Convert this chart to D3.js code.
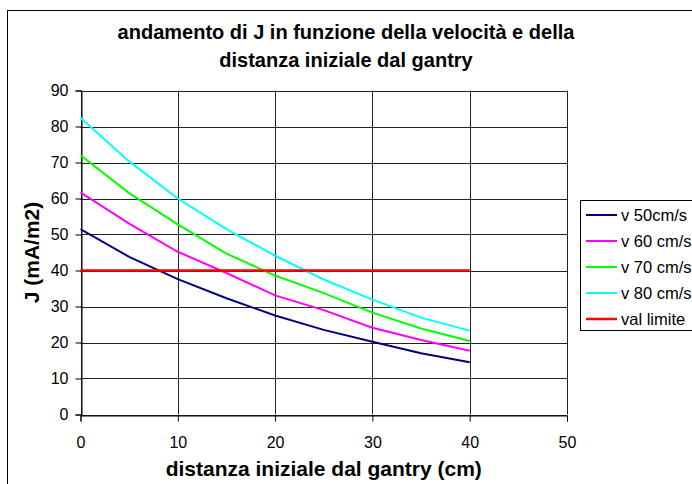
<!DOCTYPE html>
<html>
<head>
<meta charset="utf-8">
<script src="https://cdn.jsdelivr.net/npm/d3@7"></script>
<style>
  html, body { margin: 0; padding: 0; background: #fff; }
  svg { display: block; font-family: "Liberation Sans", Arial, sans-serif; }
</style>
</head>
<body>
<svg id="chart" width="692" height="484"></svg>
<script>
// Distance from the gantry (cm) at which J was evaluated
const distances = [0, 5, 10, 15, 20, 25, 30, 35, 40];

// J (mA/m2) for each speed
const v50 = [51.5, 43.8, 37.6, 32.3, 27.5, 23.5, 20.2, 17.0, 14.5];
const v60 = [61.7, 53.0, 45.2, 39.3, 33.1, 29.0, 24.1, 20.7, 17.7];
const v70 = [72.0, 61.5, 52.8, 44.7, 38.6, 33.7, 28.3, 23.9, 20.4];
const v80 = [82.4, 70.3, 60.0, 51.5, 44.1, 37.5, 31.9, 26.9, 23.3];
const valLimite = [40, 40, 40, 40, 40, 40, 40, 40, 40];

const seriesNames = ["v 50cm/s", "v 60 cm/s", "v 70 cm/s", "v 80 cm/s", "val limite"];
const seriesColors = ["#000080", "#ff00ff", "#00ff00", "#00ffff", "#ff0000"];
const seriesValues = [v50, v60, v70, v80, valLimite];

const xTicks = [0, 10, 20, 30, 40, 50];
const yTicks = [0, 10, 20, 30, 40, 50, 60, 70, 80, 90];

const titleLines = ["andamento di J in funzione della velocità e della", "distanza iniziale dal gantry"];
const xTitle = "distanza iniziale dal gantry (cm)";
const yTitle = "J (mA/m2)";

const svg = d3.select("#chart");

// outer chart frame (runs past the right and bottom edges)
svg.append("rect")
  .attr("x", 7.5).attr("y", 10.5)
  .attr("width", 720).attr("height", 500)
  .attr("fill", "#fff").attr("stroke", "#000").attr("stroke-width", 1);

const plot = { left: 80.5, right: 567, top: 90.5, bottom: 414.5 };

const x = d3.scaleLinear().domain([0, 50]).range([plot.left, plot.right]);
const y = d3.scaleLinear().domain([0, 90]).range([plot.bottom, plot.top]);

// title
svg.append("g").selectAll("text")
  .data(titleLines)
  .join("text")
  .attr("x", 346)
  .attr("y", (d, i) => 39 + i * 28)
  .attr("text-anchor", "middle")
  .attr("font-size", 20)
  .attr("font-weight", "bold")
  .text(d => d);

// grid
const grid = svg.append("g");
grid.selectAll("line.h")
  .data(yTicks)
  .join("line")
  .attr("class", "h")
  .attr("x1", plot.left).attr("x2", plot.right)
  .attr("y1", d => Math.round(y(d)) + 0.5).attr("y2", d => Math.round(y(d)) + 0.5)
  .attr("stroke", "#222").attr("stroke-width", 1);
grid.selectAll("line.v")
  .data(xTicks)
  .join("line")
  .attr("class", "v")
  .attr("y1", plot.top).attr("y2", plot.bottom)
  .attr("x1", d => Math.round(x(d)) + 0.5).attr("x2", d => Math.round(x(d)) + 0.5)
  .attr("stroke", "#222").attr("stroke-width", 1);

// axes
const yAxis = d3.axisLeft(y).tickValues(yTicks).tickSize(6).tickPadding(7).tickFormat(d3.format("d"));
const xAxis = d3.axisBottom(x).tickValues(xTicks).tickSize(6).tickPadding(15).tickFormat(d3.format("d"));

const gy = svg.append("g")
  .attr("transform", `translate(${Math.round(x(0)) + 0.5},0)`)
  .call(yAxis);
const gx = svg.append("g")
  .attr("transform", `translate(0,${Math.round(y(0)) + 0.5})`)
  .call(xAxis);

[gx, gy].forEach(g => {
  g.select(".domain").attr("stroke", "#000");
  g.selectAll(".tick line").attr("stroke", "#000");
  g.selectAll(".tick text")
    .attr("font-family", "Liberation Sans, Arial, sans-serif")
    .attr("font-size", 16)
    .attr("fill", "#000");
});

// axis titles
svg.append("text")
  .attr("x", (plot.left + plot.right) / 2)
  .attr("y", 476)
  .attr("text-anchor", "middle")
  .attr("font-size", 21)
  .attr("font-weight", "bold")
  .text(xTitle);

svg.append("text")
  .attr("transform", `translate(39,${(plot.top + plot.bottom) / 2}) rotate(-90)`)
  .attr("text-anchor", "middle")
  .attr("font-size", 21)
  .attr("font-weight", "bold")
  .text(yTitle);

// data lines
const line = d3.line()
  .x((d, i) => x(distances[i]))
  .y(d => y(d));

svg.append("g").selectAll("path")
  .data(seriesValues)
  .join("path")
  .attr("d", d => line(d))
  .attr("fill", "none")
  .attr("stroke", (d, i) => seriesColors[i])
  .attr("stroke-width", (d, i) => i === 4 ? 2.5 : 2);

// legend
const legend = svg.append("g");
legend.append("rect")
  .attr("x", 580.5).attr("y", 200.5)
  .attr("width", 140).attr("height", 130)
  .attr("fill", "#fff").attr("stroke", "#000");

const items = legend.selectAll("g.item")
  .data(seriesNames)
  .join("g")
  .attr("class", "item")
  .attr("transform", (d, i) => `translate(0,${215 + i * 26})`);
items.append("line")
  .attr("x1", 586).attr("x2", 617)
  .attr("stroke", (d, i) => seriesColors[i])
  .attr("stroke-width", (d, i) => i === 4 ? 2.5 : 2);
items.append("text")
  .attr("x", 621)
  .attr("dy", "0.35em")
  .attr("font-size", 16.5)
  .text(d => d);
</script>
</body>
</html>
